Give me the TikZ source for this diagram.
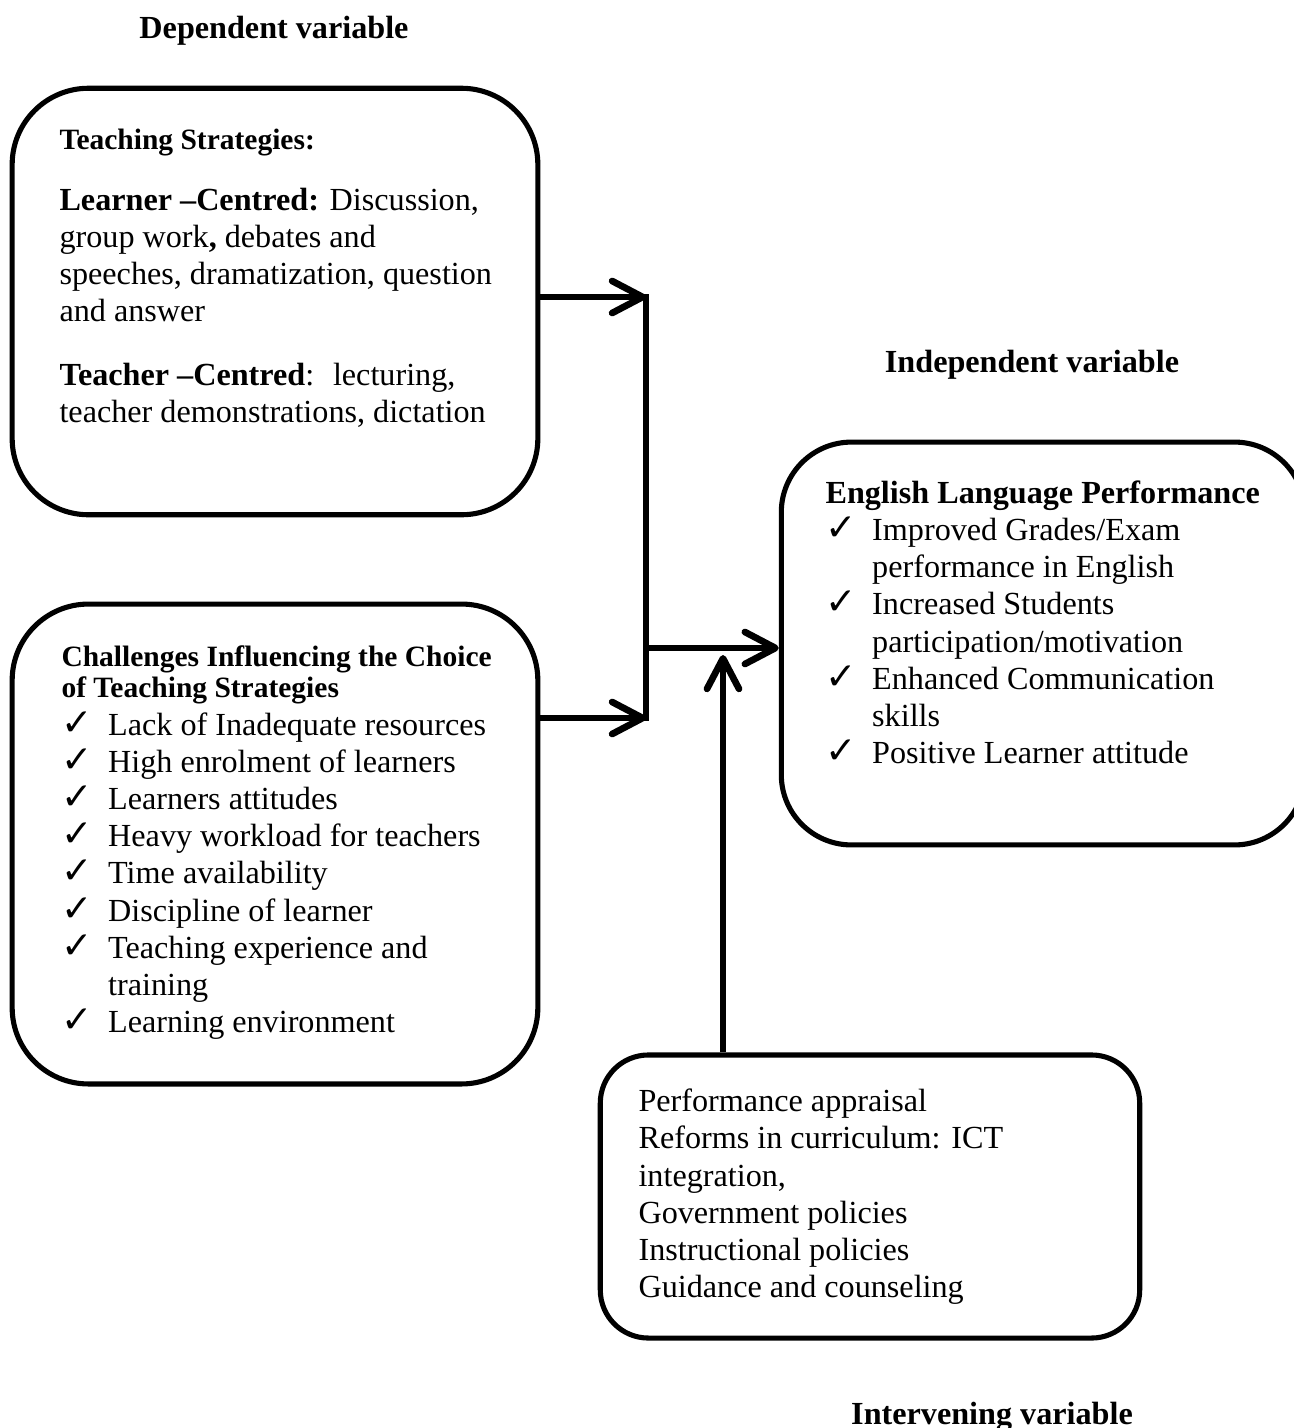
\documentclass[tikz,border=0pt]{standalone}
\usepackage{fontspec}
\setmainfont{Liberation Serif}
\newfontfamily\symfont{DejaVu Sans}
\usetikzlibrary{arrows.meta}
\newcommand{\tick}{\makebox[17.4pt][l]{\symfont\fontsize{14}{14}\selectfont ✓}}
\newcommand{\tgap}{\hspace*{17.4pt}}
\begin{document}
\begin{tikzpicture}[x=0.0131cm, y=-0.0131cm,
        box/.style={draw, line width=1.9pt, rounded corners=1cm},
        conn/.style={line width=2.5pt},
        arr/.style={conn, -{Straight Barb[length=0.4cm, width=0.42cm, round]}},
        body/.style={anchor=base west, inner sep=0pt, align=left, font=\fontsize{12}{13.8}\selectfont},
        vartitle/.style={anchor=base, inner sep=0pt, font=\bfseries\fontsize{12}{14}\selectfont}]
        \useasboundingbox (0,0) rectangle (1294,1428);

        \draw (275,301.5) node[box, minimum width=6.89cm, minimum height=5.59cm](strat){}
        (275,844) node[box, minimum width=6.89cm, minimum height=6.29cm](chal){}
        (1043,643.5) node[box, rounded corners=0.92cm, minimum width=6.86cm, minimum height=5.28cm](perf){}
        (870,1196.5) node[box, rounded corners=0.63cm, minimum width=7.07cm, minimum height=3.71cm](interv){};

        \coordinate (j1) at (646,297);
        \coordinate (j2) at (646,718);
        \coordinate (j3) at (646,648);
        \coordinate (j4) at (723,655);

        \draw[arr] (strat.east |- j1) -- (j1);
        \draw[arr] (chal.east |- j2) -- (j2);
        \draw[conn, line cap=rect] (j1) -- (j2);
        \draw[arr] (j3) -- (perf.west |- j3);
        \draw[arr] (interv.north -| j4) -- (j4);

        \node[vartitle](dep) at (274,38) {Dependent variable};
        \node[vartitle](indep) at (1032,372) {Independent variable};
        \node[vartitle](intv) at (992,1424) {Intervening variable};

        \node[body](strattxt) at (59,422) {{\bfseries\fontsize{11}{12}\selectfont Teaching Strategies:}\\[8.9pt]
            \textbf{Learner –Centred:} Discussion,\\
            group work\textbf{,} debates and\\
            speeches, dramatization, question\\
            and answer\\[10pt]
            \textbf{Teacher –Centred}:~ lecturing,\\
            teacher demonstrations, dictation};

        \node[body](chaltxt) at (61,1032) {{\bfseries\fontsize{11}{12}\selectfont Challenges Influencing the Choice}\\[-2.2pt]
            {\bfseries\fontsize{11}{12}\selectfont of Teaching Strategies}\\[0.4pt]
            \tick Lack of Inadequate resources\\
            \tick High enrolment of learners\\
            \tick Learners attitudes\\
            \tick Heavy workload for teachers\\
            \tick Time availability\\
            \tick Discipline of learner\\
            \tick Teaching experience and\\
            \tgap training\\
            \tick Learning environment};

        \node[body](perftxt) at (825,763) {\textbf{English Language Performance}\\
            \tick Improved Grades/Exam\\
            \tgap performance in English\\
            \tick Increased Students\\
            \tgap participation/motivation\\
            \tick Enhanced Communication\\
            \tgap skills\\
            \tick Positive Learner attitude};

        \node[body](intvtxt) at (638,1297) {Performance appraisal\\
            Reforms in curriculum: ICT\\
            integration,\\
            Government policies\\
            Instructional policies\\
            Guidance and counseling};
\end{tikzpicture}
\end{document}
